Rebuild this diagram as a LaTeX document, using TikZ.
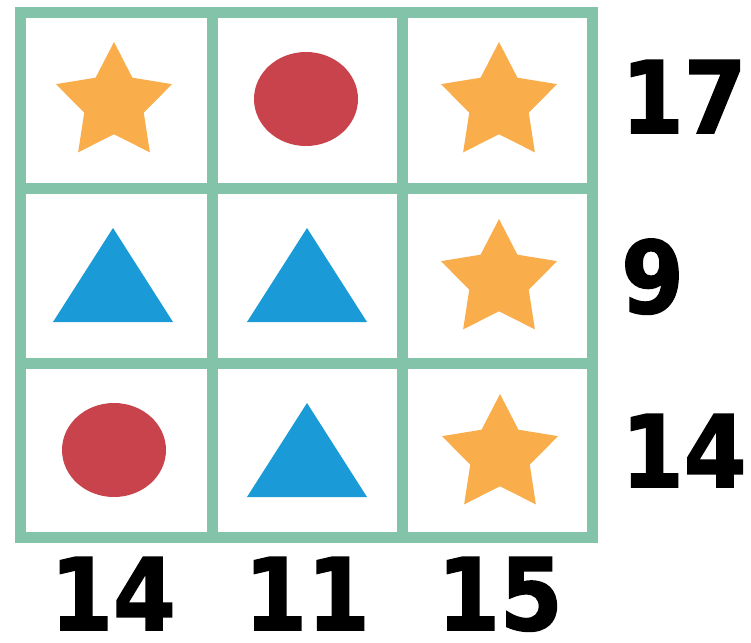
\documentclass[tikz,border=0pt]{standalone}
\usepackage{fontspec}
\usetikzlibrary{shapes.geometric}
\newfontfamily\numfont[FakeStretch=0.9, BoldFeatures={FakeBold=1.6}]{DejaVu Sans}
\definecolor{mint}{HTML}{82C3A9}
\definecolor{gold}{HTML}{F9AE4B}
\definecolor{berry}{HTML}{C8434B}
\definecolor{sky}{HTML}{1A9AD7}

\begin{document}
\begin{tikzpicture}[x=1pt, y=-1pt,
  gridline/.style={draw=mint, line width=11pt},
  starmark/.style={star, star points=5, star point ratio=1.95, fill=gold, minimum size=122pt, inner sep=0pt},
  dotmark/.style={ellipse, fill=berry, minimum width=104pt, minimum height=94pt, inner sep=0pt},
  trimark/.style={fill=sky},
  num/.style={inner sep=0pt, text depth=0pt, font=\numfont\bfseries\fontsize{100}{100}\selectfont}]
\useasboundingbox[fill=white] (0,0) rectangle (751,642);
% grid
\draw[gridline] (20,13) rectangle (592,537);
\foreach \gx in {212,402} \draw[gridline] (\gx,13) -- (\gx,537);
\foreach \gy in {188,363} \draw[gridline] (20,\gy) -- (592,\gy);
% row 1
\node[starmark] (s11) at (114,103) {};
\node[dotmark] (c12) at (306,99) {};
\node[starmark] (s13) at (499,103) {};
% row 2
\coordinate (t21) at (113,275);
\coordinate (t22) at (307,275);
\fill[trimark] (t21) ++(0,-47) -- ++(60,94) -- ++(-120,0) -- cycle;
\fill[trimark] (t22) ++(0,-47) -- ++(60,94) -- ++(-120,0) -- cycle;
\node[starmark] (s23) at (499,280) {};
% row 3
\node[dotmark] (c31) at (114,450) {};
\coordinate (t32) at (307,450);
\fill[trimark] (t32) ++(0,-47) -- ++(60,94) -- ++(-120,0) -- cycle;
\node[starmark] (s33) at (500,455) {};
% sums
\node[num, anchor=base west] (r1) at (621,133) {17};
\node[num, anchor=base west] (r2) at (621,313) {9};
\node[num, anchor=base west] (r3) at (621,487) {14};
\node[num, anchor=base] (b1) at (113,630) {14};
\node[num, anchor=base] (b2) at (307,630) {11};
\node[num, anchor=base] (b3) at (500,630) {15};
\end{tikzpicture}
\end{document}
